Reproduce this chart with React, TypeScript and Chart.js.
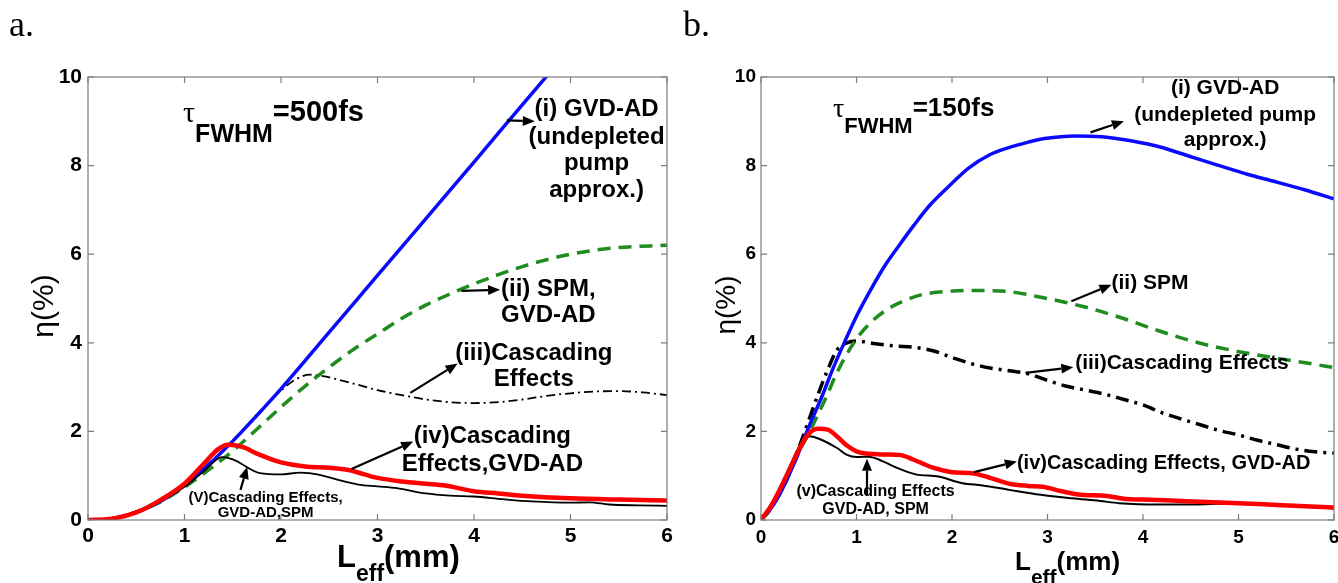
import React, { useEffect, useRef } from 'react';
import { Chart, registerables } from 'chart.js';
Chart.register(...registerables);

// ---------------- DATA ----------------
const xTicks = [0, 1, 2, 3, 4, 5, 6];
const yTicks = [0, 2, 4, 6, 8, 10];

// panel a (τ = 500 fs)
const aX_i = [0, 0.25, 0.5, 0.75, 1, 1.25, 1.5, 1.75, 2, 2.5, 3, 3.5, 4, 4.5, 5];
const aY_i = [0, 0.03, 0.18, 0.42, 0.78, 1.25, 1.78, 2.36, 2.96, 4.24, 5.52, 6.8, 8.08, 9.37, 10.65];
const aX_ii = [0, 0.25, 0.5, 0.75, 1, 1.25, 1.5, 1.75, 2, 2.25, 2.5, 2.75, 3, 3.25, 3.5, 3.75, 4, 4.5, 5, 5.5, 6];
const aY_ii = [0, 0.03, 0.18, 0.41, 0.74, 1.13, 1.56, 2.05, 2.55, 3.02, 3.45, 3.85, 4.2, 4.55, 4.85, 5.1, 5.33, 5.72, 6.0, 6.15, 6.2];
const aX_iii = [0, 0.25, 0.5, 0.75, 1, 1.25, 1.5, 1.75, 2, 2.15, 2.3, 2.45, 2.75, 3, 3.25, 3.5, 3.75, 4, 4.25, 4.5, 4.75, 5, 5.25, 5.5, 5.75, 6];
const aY_iii = [0, 0.03, 0.18, 0.43, 0.8, 1.27, 1.8, 2.38, 2.92, 3.17, 3.28, 3.24, 3.08, 2.93, 2.82, 2.72, 2.66, 2.64, 2.66, 2.72, 2.8, 2.86, 2.9, 2.91, 2.88, 2.82];
const aX_iv = [0, 0.25, 0.5, 0.75, 1, 1.2, 1.35, 1.45, 1.6, 1.75, 2, 2.25, 2.5, 2.7, 3, 3.25, 3.5, 3.7, 4, 4.25, 4.5, 5, 5.5, 6];
const aY_iv = [0, 0.03, 0.17, 0.45, 0.82, 1.27, 1.6, 1.7, 1.65, 1.5, 1.3, 1.21, 1.18, 1.13, 0.95, 0.87, 0.82, 0.78, 0.65, 0.6, 0.55, 0.49, 0.46, 0.44];
const aX_v = [0, 0.25, 0.5, 0.75, 1, 1.2, 1.39, 1.5, 1.78, 2, 2.2, 2.4, 2.6, 2.8, 3, 3.2, 3.5, 3.75, 4, 4.3, 4.6, 5, 5.2, 5.4, 5.7, 6];
const aY_v = [0, 0.03, 0.17, 0.42, 0.75, 1.1, 1.42, 1.37, 1.06, 1.03, 1.07, 1.02, 0.9, 0.8, 0.76, 0.72, 0.6, 0.55, 0.53, 0.47, 0.42, 0.39, 0.4, 0.35, 0.33, 0.32];

// panel b (τ = 150 fs)
const bX_i = [0, 0.1, 0.2, 0.3, 0.4, 0.5, 0.64, 0.75, 0.88, 1, 1.16, 1.3, 1.45, 1.6, 1.77, 2, 2.17, 2.4, 2.57, 2.8, 2.97, 3.29, 3.57, 3.9, 4.18, 4.5, 4.78, 5.1, 5.38, 5.7, 6];
const bY_i = [0, 0.25, 0.6, 1.05, 1.55, 2.1, 2.8, 3.4, 4.04, 4.6, 5.24, 5.75, 6.21, 6.65, 7.11, 7.6, 7.94, 8.25, 8.39, 8.53, 8.61, 8.67, 8.65, 8.55, 8.42, 8.2, 8.01, 7.8, 7.64, 7.45, 7.25];
const bX_ii = [0, 0.1, 0.2, 0.3, 0.4, 0.5, 0.6, 0.68, 0.8, 0.96, 1.1, 1.29, 1.5, 1.69, 1.9, 2.17, 2.57, 2.97, 3.37, 3.78, 4.18, 4.58, 4.98, 5.38, 5.7, 6];
const bY_ii = [0, 0.25, 0.6, 1.05, 1.55, 1.95, 2.4, 2.76, 3.35, 3.96, 4.35, 4.71, 4.95, 5.09, 5.15, 5.18, 5.16, 5.01, 4.82, 4.56, 4.26, 4.0, 3.81, 3.66, 3.55, 3.44];
const bX_iii = [0, 0.1, 0.2, 0.3, 0.4, 0.5, 0.6, 0.7, 0.8, 0.9, 1, 1.2, 1.4, 1.6, 1.8, 2, 2.2, 2.4, 2.6, 2.8, 3, 3.2, 3.4, 3.6, 3.8, 4, 4.2, 4.4, 4.6, 4.8, 5, 5.2, 5.4, 5.6, 5.8, 6];
const bY_iii = [0, 0.25, 0.62, 1.1, 1.65, 2.25, 2.85, 3.4, 3.85, 4.0, 4.04, 3.98, 3.93, 3.9, 3.82, 3.67, 3.53, 3.43, 3.37, 3.3, 3.15, 3.02, 2.93, 2.84, 2.72, 2.6, 2.42, 2.28, 2.15, 2.02, 1.92, 1.8, 1.7, 1.6, 1.54, 1.51];
const bX_iv = [0, 0.1, 0.2, 0.3, 0.4, 0.5, 0.6, 0.7, 0.8, 0.9, 1, 1.1, 1.3, 1.45, 1.6, 1.8, 2, 2.23, 2.4, 2.6, 2.8, 2.95, 3.15, 3.35, 3.6, 3.8, 4, 4.3, 4.6, 5, 5.4, 5.7, 6];
const bY_iv = [0, 0.3, 0.7, 1.15, 1.6, 1.95, 2.06, 2.04, 1.88, 1.68, 1.55, 1.5, 1.48, 1.47, 1.36, 1.18, 1.08, 1.05, 0.95, 0.82, 0.77, 0.75, 0.65, 0.57, 0.55, 0.48, 0.46, 0.44, 0.41, 0.38, 0.34, 0.31, 0.28];
const bX_v = [0, 0.1, 0.2, 0.3, 0.4, 0.51, 0.6, 0.8, 0.9, 1, 1.13, 1.25, 1.4, 1.62, 1.86, 2.11, 2.32, 2.6, 2.93, 3.26, 3.55, 3.75, 4.16, 4.57, 4.98, 5.2, 5.39, 5.7, 6];
const bY_v = [0, 0.3, 0.72, 1.2, 1.65, 1.89, 1.84, 1.62, 1.47, 1.42, 1.43, 1.35, 1.2, 1.03, 0.98, 0.83, 0.78, 0.68, 0.57, 0.49, 0.43, 0.38, 0.35, 0.35, 0.38, 0.37, 0.34, 0.3, 0.26];

// annotation texts
const aLabels = {
  i: ['(i) GVD-AD', '(undepleted', 'pump', 'approx.)'],
  ii: ['(ii) SPM,', 'GVD-AD'],
  iii: ['(iii)Cascading', 'Effects'],
  iv: ['(iv)Cascading', 'Effects,GVD-AD'],
  v: ['(V)Cascading Effects,', 'GVD-AD,SPM'],
  tau: '=500fs',
};
const bLabels = {
  i: ['(i) GVD-AD', '(undepleted pump', 'approx.)'],
  ii: ['(ii) SPM'],
  iii: ['(iii)Cascading Effects'],
  iv: ['(iv)Cascading Effects, GVD-AD'],
  v: ['(v)Cascading Effects', 'GVD-AD, SPM'],
  tau: '=150fs',
};

// ---------------- STYLE / LAYOUT ----------------
const SANS = '"Liberation Sans", Arial, Helvetica, sans-serif';
const SERIF = '"Liberation Serif", "Times New Roman", serif';

const pts = (xs: number[], ys: number[]) => xs.map((x, k) => ({ x, y: ys[k] }));

function makeDatasets(p: any) {
  const base = { pointRadius: 0, fill: false, cubicInterpolationMode: 'monotone' as const };
  return [
    { ...base, data: pts(p.X_iv, p.Y_iv), borderColor: '#ff0000', borderWidth: 4.5 },
    { ...base, data: pts(p.X_v, p.Y_v), borderColor: '#000000', borderWidth: p.thin },
    { ...base, data: pts(p.X_i, p.Y_i), borderColor: '#0a0aff', borderWidth: 3.5 },
    { ...base, data: pts(p.X_ii, p.Y_ii), borderColor: '#1e8c1e', borderWidth: 3.5, borderDash: [13, 8] },
    { ...base, data: pts(p.X_iii, p.Y_iii), borderColor: '#000000', borderWidth: p.dd, borderDash: p.ddPattern },
  ];
}

function drawRich(ctx: CanvasRenderingContext2D, x: number, segs: any[]) {
  let cx = x;
  for (const s of segs) {
    ctx.font = s.font;
    ctx.textAlign = 'left';
    ctx.textBaseline = 'alphabetic';
    ctx.fillText(s.text, cx, s.y);
    cx += ctx.measureText(s.text).width + (s.gap || 0);
  }
}

function arrow(ctx: CanvasRenderingContext2D, x1: number, y1: number, x2: number, y2: number) {
  const ang = Math.atan2(y2 - y1, x2 - x1);
  const hl = 12, hw = 5;
  const bx = x2 - hl * Math.cos(ang), by = y2 - hl * Math.sin(ang);
  ctx.beginPath();
  ctx.moveTo(x1, y1);
  ctx.lineTo(bx, by);
  ctx.lineWidth = 2.2;
  ctx.strokeStyle = '#000';
  ctx.stroke();
  ctx.beginPath();
  ctx.moveTo(x2, y2);
  ctx.lineTo(bx + hw * Math.sin(ang), by - hw * Math.cos(ang));
  ctx.lineTo(bx - hw * Math.sin(ang), by + hw * Math.cos(ang));
  ctx.closePath();
  ctx.fillStyle = '#000';
  ctx.fill();
}

function overlayPlugin(p: any) {
  return {
    id: 'overlay',
    afterDatasetsDraw(chart: any) {
      const { ctx, chartArea: a, scales } = chart;
      const sx = scales.x, sy = scales.y;
      ctx.save();
      // frame
      ctx.strokeStyle = '#7c7c7c';
      ctx.lineWidth = 1.2;
      ctx.strokeRect(a.left, a.top, a.right - a.left, a.bottom - a.top);
      // inward ticks
      ctx.beginPath();
      for (const v of xTicks) {
        const px = sx.getPixelForValue(v);
        ctx.moveTo(px, a.top); ctx.lineTo(px, a.top + 6);
        ctx.moveTo(px, a.bottom); ctx.lineTo(px, a.bottom - 6);
      }
      for (const v of yTicks) {
        const py = sy.getPixelForValue(v);
        ctx.moveTo(a.left, py); ctx.lineTo(a.left + 6, py);
        ctx.moveTo(a.right, py); ctx.lineTo(a.right - 6, py);
      }
      ctx.stroke();

      ctx.fillStyle = '#000';
      // notes
      for (const n of p.notes) {
        ctx.font = `bold ${n.size}px ${SANS}`;
        ctx.textAlign = n.align;
        ctx.textBaseline = 'middle';
        n.lines.forEach((t: string, k: number) => {
          ctx.fillText(t, sx.getPixelForValue(n.x), sy.getPixelForValue(n.y[k]));
        });
      }
      for (const ar of p.arrows) {
        arrow(ctx, sx.getPixelForValue(ar[0]), sy.getPixelForValue(ar[1]), sx.getPixelForValue(ar[2]), sy.getPixelForValue(ar[3]));
      }
      // tau label
      const tx = sx.getPixelForValue(p.tau.x), ty = sy.getPixelForValue(p.tau.y);
      ctx.fillStyle = '#000';
      drawRich(ctx, tx, [
        { text: 'τ', font: `${p.tau.s1}px ${SERIF}`, y: ty },
        { text: 'FWHM', font: `bold ${p.tau.s2}px ${SANS}`, y: ty + p.tau.dSub },
        { text: p.tau.text, font: `bold ${p.tau.s3}px ${SANS}`, y: ty - 1 },
      ]);
      // x title
      const xt = p.xTitle;
      drawRich(ctx, xt.x, [
        { text: 'L', font: `bold ${xt.s}px ${SANS}`, y: xt.y },
        { text: 'eff', font: `bold ${xt.ss}px ${SANS}`, y: xt.y + xt.d },
        { text: '(mm)', font: `bold ${xt.s}px ${SANS}`, y: xt.y },
      ]);
      // y title
      ctx.save();
      ctx.translate(p.yTitle.x, p.yTitle.y);
      ctx.rotate(-Math.PI / 2);
      ctx.font = `${p.yTitle.s}px ${SANS}`;
      ctx.textAlign = 'center';
      ctx.textBaseline = 'middle';
      ctx.fillText('η(%)', 0, 0);
      ctx.restore();
      // panel letter
      ctx.font = `36px ${SERIF}`;
      ctx.textAlign = 'left';
      ctx.textBaseline = 'alphabetic';
      ctx.fillText(p.letter, p.letterX, 36);
      ctx.restore();
    },
  };
}

const panelA = {
  X_i: aX_i, Y_i: aY_i, X_ii: aX_ii, Y_ii: aY_ii, X_iii: aX_iii, Y_iii: aY_iii,
  X_iv: aX_iv, Y_iv: aY_iv, X_v: aX_v, Y_v: aY_v,
  thin: 1.8, dd: 1.8, ddPattern: [9, 4, 2, 4],
  left: 0, width: 680, yWidth: 88, padRight: 13, tickSize: 21, tickPad: 4, yPad: 6,
  notes: [
    { lines: aLabels.i, x: 5.27, y: [9.28, 8.64, 8.04, 7.43], align: 'center', size: 24 },
    { lines: aLabels.ii, x: 4.28, y: [5.21, 4.63], align: 'left', size: 24 },
    { lines: aLabels.iii, x: 4.62, y: [3.77, 3.17], align: 'center', size: 24 },
    { lines: aLabels.iv, x: 4.19, y: [1.89, 1.25], align: 'center', size: 24 },
    { lines: aLabels.v, x: 1.84, y: [0.5, 0.15], align: 'center', size: 15 },
  ],
  arrows: [
    [4.34, 9.02, 4.63, 9.0],
    [3.87, 5.17, 4.27, 5.2],
    [3.34, 2.87, 3.83, 3.53],
    [2.73, 1.15, 3.37, 1.77],
    [1.58, 0.68, 1.65, 1.2],
  ],
  tau: { x: 0.985, y: 8.98, s1: 30, s2: 25, s3: 29, dSub: 20, text: aLabels.tau },
  xTitle: { x: 337, y: 567, s: 31, ss: 23, d: 14 },
  yTitle: { x: 45, y: 306, s: 30 },
  letter: 'a.', letterX: 9,
};

const panelB = {
  X_i: bX_i, Y_i: bY_i, X_ii: bX_ii, Y_ii: bY_ii, X_iii: bX_iii, Y_iii: bY_iii,
  X_iv: bX_iv, Y_iv: bY_iv, X_v: bX_v, Y_v: bY_v,
  thin: 2, dd: 3.5, ddPattern: [13, 6, 3, 6],
  left: 661, width: 690, yWidth: 100, padRight: 17, tickSize: 19, tickPad: 6, yPad: 5,
  notes: [
    { lines: bLabels.i, x: 4.86, y: [9.74, 9.14, 8.57], align: 'center', size: 21 },
    { lines: bLabels.ii, x: 3.67, y: [5.35], align: 'left', size: 21 },
    { lines: bLabels.iii, x: 3.29, y: [3.53], align: 'left', size: 21 },
    { lines: bLabels.iv, x: 2.68, y: [1.28], align: 'left', size: 20 },
    { lines: bLabels.v, x: 1.2, y: [0.64, 0.23], align: 'center', size: 16 },
  ],
  arrows: [
    [3.45, 8.75, 3.8, 9.0],
    [3.25, 4.94, 3.67, 5.31],
    [2.77, 3.32, 3.27, 3.45],
    [2.23, 1.08, 2.68, 1.32],
    [1.11, 0.57, 1.11, 1.38],
  ],
  tau: { x: 0.754, y: 9.1, s1: 28, s2: 22, s3: 26, dSub: 16, text: bLabels.tau },
  xTitle: { x: 354, y: 570, s: 26, ss: 21, d: 14 },
  yTitle: { x: 66, y: 305, s: 28 },
  letter: 'b.', letterX: 22,
};

function Panel({ p }: { p: any }) {
  const ref = useRef<HTMLCanvasElement | null>(null);
  useEffect(() => {
    if (!ref.current) return;
    const tickFont = { family: SANS, size: p.tickSize, weight: 'bold' as const };
    const chart = new Chart(ref.current, {
      type: 'line',
      data: { datasets: makeDatasets(p) as any },
      options: {
        responsive: false,
        animation: false,
        layout: { padding: { left: 0, right: p.padRight, top: 77, bottom: 0 } },
        plugins: { legend: { display: false }, tooltip: { enabled: false } },
        scales: {
          x: {
            type: 'linear', min: 0, max: 6,
            grid: { display: false, drawTicks: false },
            border: { display: false },
            ticks: { stepSize: 1, font: tickFont, color: '#000', padding: p.tickPad, maxRotation: 0 },
            afterFit: (s: any) => { s.height = 63; },
          },
          y: {
            min: 0, max: 10,
            grid: { display: false, drawTicks: false },
            border: { display: false },
            ticks: { stepSize: 2, font: tickFont, color: '#000', padding: p.yPad },
            afterFit: (s: any) => { s.width = p.yWidth; },
          },
        },
      },
      plugins: [overlayPlugin(p)],
    });
    return () => chart.destroy();
  }, [p]);
  return (
    <canvas
      ref={ref}
      width={p.width}
      height={583}
      style={{ position: 'absolute', left: p.left, top: 0, width: p.width, height: 583 }}
    />
  );
}

export default function App() {
  return (
    <div style={{ position: 'fixed', left: 0, top: 0, width: 1338, height: 583, overflow: 'hidden', background: '#fff' }}>
      <Panel p={panelA} />
      <Panel p={panelB} />
    </div>
  );
}
